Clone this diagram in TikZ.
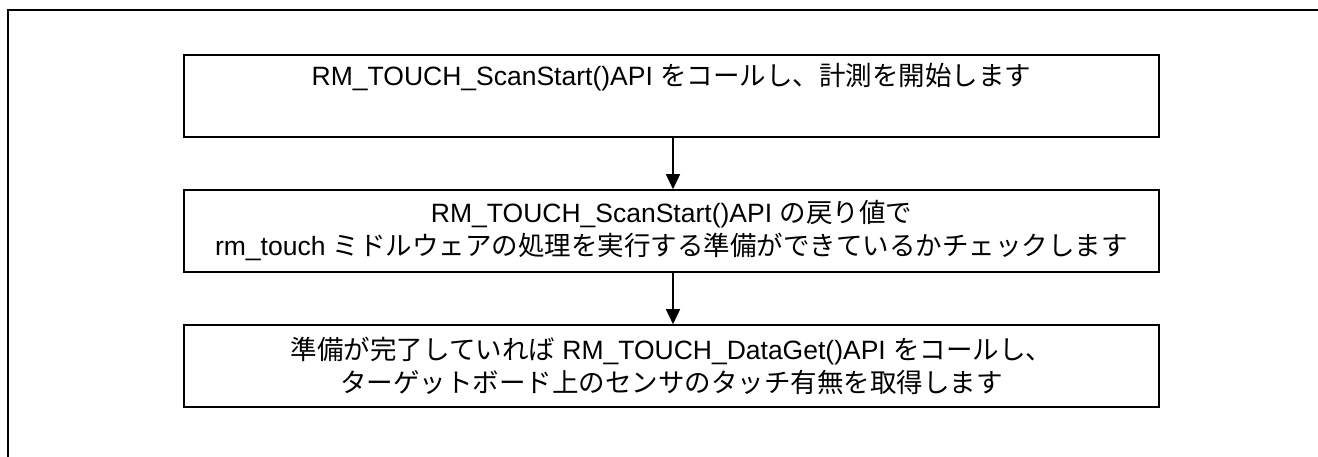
\documentclass[tikz,border=0pt]{standalone}
\usepackage{fontspec}
\setmainfont{Liberation Sans}
\newfontfamily\cjk{Noto Sans CJK JP}
\usetikzlibrary{arrows.meta}
\newcommand\jp[1]{{\cjk #1}}
\begin{document}
\begin{tikzpicture}[x=1pt,y=-1pt,
  stepbox/.style={draw, line width=1.6pt, minimum width=975pt, minimum height=82pt,
    inner sep=0pt, align=center, font=\fontsize{26.5}{33}\selectfont},
  flow/.style={line width=1.6pt, -{Triangle[length=15pt,width=14pt]}},
  frame/.style={line width=2pt}]
\useasboundingbox (0,0) rectangle (1318,457);
\draw[frame] (8,457) -- (8,10) -- (1318,10);
\node[stepbox] (b1) at (671.5,96) {RM\_TOUCH\_ScanStart()API \jp{をコールし、計測を開始します}\\ \strut};
\node[stepbox] (b2) at (671.5,231) {RM\_TOUCH\_ScanStart()API \jp{の戻り値で}\\ rm\_touch \jp{ミドルウェアの処理を実行する準備ができているかチェックします}};
\node[stepbox] (b3) at (671.5,366) {\jp{準備が完了していれば} RM\_TOUCH\_DataGet()API \jp{をコールし、}\\ \jp{ターゲットボード上のセンサのタッチ有無を取得します}};
\draw[flow] (b1.south -| 673,0) -- (b2.north -| 673,0);
\draw[flow] (b2.south -| 673,0) -- (b3.north -| 673,0);
\end{tikzpicture}
\end{document}
